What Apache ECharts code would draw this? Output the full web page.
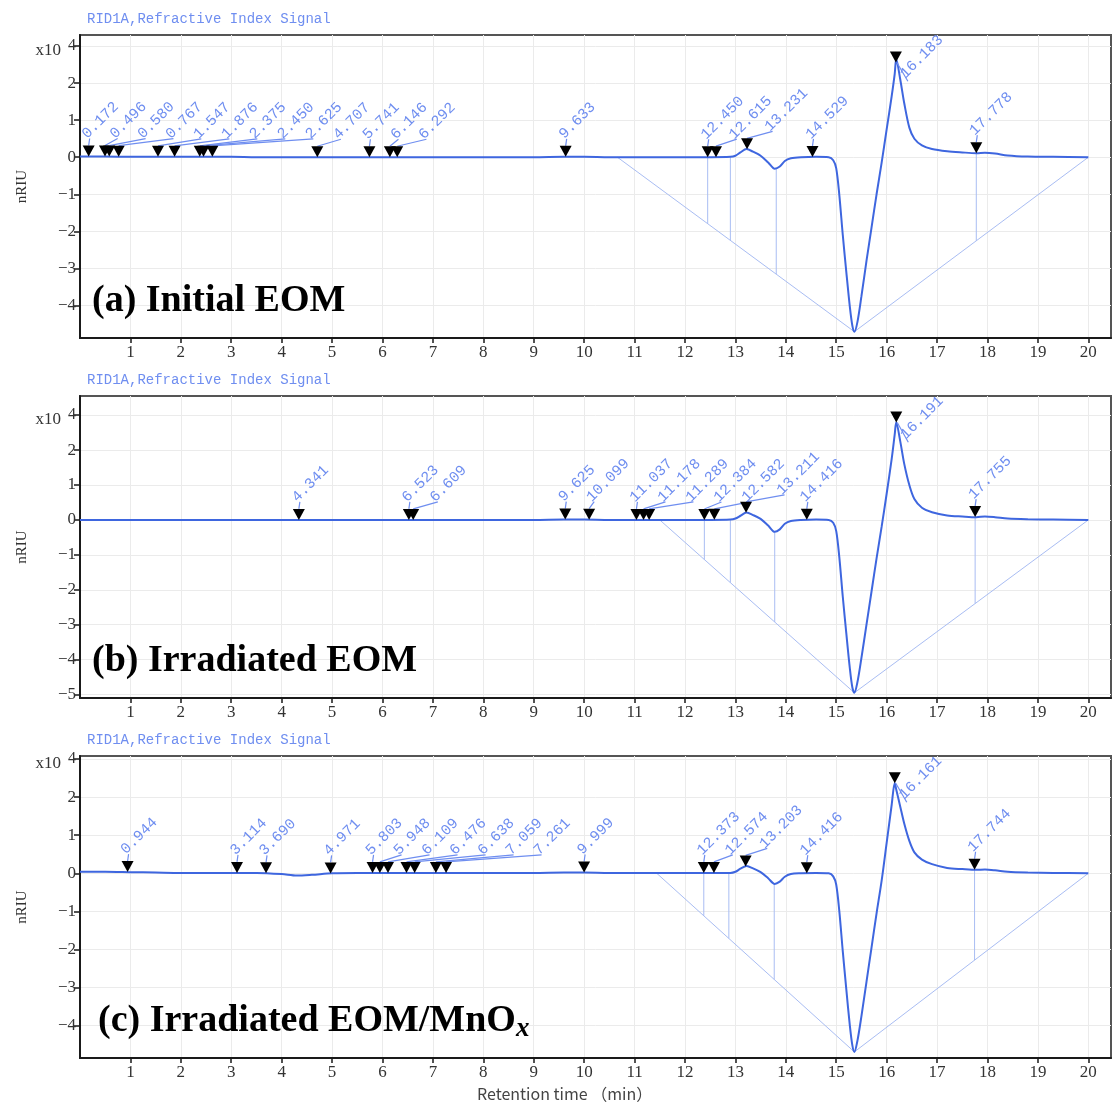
<!DOCTYPE html>
<html>
<head>
<meta charset="utf-8">
<script src="https://cdn.jsdelivr.net/npm/echarts@6/dist/echarts.min.js"></script>
<style>
  html, body { margin: 0; padding: 0; background: #ffffff; }
  #chart { width: 1113px; height: 1113px; }
</style>
</head>
<body>
<div id="chart"></div>
<script>
// Retention time grid (min) shared by the three refractive-index traces
const retentionTimes = [
  0, 0.5, 1, 1.5, 2, 2.5, 3, 3.5, 4,
  4.3, 4.6, 5, 5.5, 6, 6.5, 7, 8, 9,
  9.6, 10, 10.5, 11, 11.5, 12, 12.5, 12.9,
  13.0, 13.1, 13.22, 13.35, 13.5, 13.65, 13.78, 13.88, 13.98,
  14.1, 14.3, 14.6, 14.85, 14.94,
  15.0, 15.06, 15.13, 15.2, 15.27, 15.32, 15.36, 15.42, 15.5,
  15.6, 15.7, 15.8, 15.9, 16.0, 16.1, 16.16, 16.19,
  16.27, 16.35, 16.45, 16.55, 16.7, 16.9,
  17.2, 17.5, 17.78, 17.95, 18.15, 18.4, 18.8, 19.3, 20
];

// RID1A signal, nRIU x10^4
const signalA = [
  0.02, 0.02, 0.01, 0.01, 0.01, 0.01, 0.01, 0.00, 0.00,
  0.00, 0.00, 0.00, 0.00, 0.00, 0.00, 0.00, 0.00, 0.00,
  0.01, 0.01, 0.00, 0.00, 0.00, 0.00, 0.00, 0.01,
  0.04, 0.13, 0.22, 0.15, 0.04, -0.14, -0.31, -0.25, -0.10,
  -0.03, 0.00, 0.01, 0.00, -0.08,
  -0.30, -1.00, -2.10, -3.10, -4.04, -4.55, -4.71, -4.45, -3.75,
  -2.80, -1.90, -1.00, -0.15, 0.75, 1.65, 2.25, 2.65,
  2.10, 1.45, 0.80, 0.50, 0.32, 0.22,
  0.16, 0.13, 0.11, 0.12, 0.10, 0.05, 0.02, 0.01, 0.00
];
const signalB = [
  0.00, 0.00, 0.00, 0.00, 0.00, 0.00, 0.00, 0.00, 0.00,
  0.00, 0.00, 0.00, 0.00, 0.00, 0.00, 0.00, 0.00, 0.00,
  0.01, 0.01, 0.00, 0.00, 0.00, 0.00, 0.00, 0.01,
  0.04, 0.12, 0.21, 0.14, 0.03, -0.16, -0.34, -0.27, -0.11,
  -0.03, 0.00, 0.01, 0.00, -0.08,
  -0.32, -1.05, -2.20, -3.25, -4.25, -4.80, -4.95, -4.65, -3.95,
  -3.00, -2.05, -1.10, -0.20, 0.75, 1.75, 2.45, 2.80,
  2.25, 1.60, 1.00, 0.60, 0.35, 0.22,
  0.13, 0.10, 0.08, 0.10, 0.08, 0.04, 0.02, 0.01, 0.00
];
const signalC = [
  0.04, 0.04, 0.03, 0.02, 0.01, 0.01, 0.01, 0.01, -0.02,
  -0.06, -0.04, 0.00, 0.01, 0.01, 0.01, 0.01, 0.01, 0.01,
  0.02, 0.02, 0.01, 0.01, 0.01, 0.01, 0.01, 0.01,
  0.04, 0.12, 0.19, 0.13, 0.03, -0.13, -0.28, -0.22, -0.09,
  -0.02, 0.00, 0.01, 0.00, -0.08,
  -0.30, -0.98, -2.05, -3.05, -4.00, -4.52, -4.69, -4.40, -3.75,
  -2.85, -1.95, -1.05, -0.20, 0.80, 1.80, 2.37, 2.20,
  1.75, 1.30, 0.85, 0.55, 0.36, 0.24,
  0.14, 0.11, 0.09, 0.10, 0.08, 0.04, 0.02, 0.01, 0.00
];

// Integrated peak retention times (min)
const peaksA = [0.172, 0.496, 0.580, 0.767, 1.547, 1.876, 2.375, 2.450, 2.625, 4.707,
  5.741, 6.146, 6.292, 9.633, 12.450, 12.615, 13.231, 14.529, 16.183, 17.778];
const peaksB = [4.341, 6.523, 6.609, 9.625, 10.099, 11.037, 11.178, 11.289, 12.384,
  12.582, 13.211, 14.416, 16.191, 17.755];
const peaksC = [0.944, 3.114, 3.690, 4.971, 5.803, 5.948, 6.109, 6.476, 6.638, 7.059,
  7.261, 9.999, 12.373, 12.574, 13.203, 14.416, 16.161, 17.744];

// Peak-split drop lines (min) and where each skimmed baseline leaves zero
const dropTimesA = [12.450, 12.90, 13.81, 17.778];
const dropTimesB = [12.384, 12.90, 13.78, 17.755];
const dropTimesC = [12.373, 12.87, 13.77, 17.744];
const baselineStarts = [10.66, 11.5, 11.44];
const baselineEnd = 20;

const xTicks = [1, 2, 3, 4, 5, 6, 7, 8, 9, 10, 11, 12, 13, 14, 15, 16, 17, 18, 19, 20];
const yTicksA = [-4, -3, -2, -1, 0, 1, 2, 3];
const yTicksB = [-5, -4, -3, -2, -1, 0, 1, 2, 3];
const yTicksC = [-4, -3, -2, -1, 0, 1, 2, 3];

const signalTitle = 'RID1A,Refractive Index Signal';
const panelNames = ['(a) Initial EOM', '(b) Irradiated EOM', '(c) Irradiated EOM/MnO'];
const timeAxisName = 'Retention time （min）';

// ---------------------------------------------------------------------------
const TRACE_COLOR = '#3e66df';
const LABEL_COLOR = '#6f8ef0';
const BASE_COLOR = '#a9bdf3';
const AXIS_COLOR = '#1a1a1a';
const TEXT_COLOR = '#333333';
const GRID_COLOR = '#ebebeb';
const LABEL_FONT = 15;
const CHAR_W = LABEL_FONT * 0.6;
const LABEL_GAP = 28;

const panels = [
  { signal: signalA, peaks: peaksA, drops: dropTimesA, yTicks: yTicksA, min: -4.88, max: 3.3, top: 35, height: 303 },
  { signal: signalB, peaks: peaksB, drops: dropTimesB, yTicks: yTicksB, min: -5.1, max: 3.55, top: 396, height: 302 },
  { signal: signalC, peaks: peaksC, drops: dropTimesC, yTicks: yTicksC, min: -4.85, max: 3.08, top: 756, height: 302 }
];

function curveAt(signal, t) {
  for (let i = 1; i < retentionTimes.length; i++) {
    if (t <= retentionTimes[i]) {
      const t0 = retentionTimes[i - 1], t1 = retentionTimes[i];
      const f = (t - t0) / (t1 - t0);
      return signal[i - 1] + f * (signal[i] - signal[i - 1]);
    }
  }
  return signal[signal.length - 1];
}

// Skimmed baseline: zero -> deepest point of the trace -> zero
function baselineOf(k) {
  const sig = panels[k].signal;
  let iMin = 0;
  sig.forEach((v, i) => { if (v < sig[iMin]) iMin = i; });
  return [[baselineStarts[k], 0], [retentionTimes[iMin], sig[iMin]], [baselineEnd, 0]];
}
function baselineAt(k, t) {
  const b = baselineOf(k);
  const seg = t <= b[1][0] ? [b[0], b[1]] : [b[1], b[2]];
  const f = (t - seg[0][0]) / (seg[1][0] - seg[0][0]);
  return seg[0][1] + f * (seg[1][1] - seg[0][1]);
}

// Place the 45° peak labels left to right so they never run into each other
function layoutPeaks(api, k, plotTop) {
  const p = panels[k];
  const out = [];
  let prevX = -Infinity, prevY = 0;
  p.peaks.forEach(t => {
    const text = t.toFixed(3);
    const pt = api.coord([t, curveAt(p.signal, t)]);
    let ax = pt[0] + 1, ay = pt[1] - 15, lifted = false;
    const need = prevX + LABEL_GAP + (prevY - ay);
    if (ax < need) ax = need;
    const ext = text.length * CHAR_W * Math.SQRT1_2;
    if (ay - ext < plotTop + 8) {
      ay = plotTop + 8 + ext;
      ax = pt[0] + 12;
      lifted = true;
    }
    out.push({ pt, ax, ay, text, lifted });
    prevX = ax; prevY = ay;
  });
  return out;
}

const option = {
  animation: false,
  backgroundColor: '#ffffff',
  grid: panels.map(p => ({
    left: 80, top: p.top, width: 1031, height: p.height,
    show: true, borderColor: '#555555', borderWidth: 2, backgroundColor: 'transparent'
  })),
  xAxis: panels.map((p, k) => ({
    gridIndex: k, type: 'value', min: 0, max: 20.45,
    axisLine: { show: true, onZero: false, lineStyle: { color: AXIS_COLOR, width: 2 } },
    axisTick: { show: true, customValues: xTicks, length: 5, lineStyle: { color: AXIS_COLOR, width: 1.5 } },
    axisLabel: { customValues: xTicks, color: TEXT_COLOR, fontFamily: '"Liberation Serif"', fontSize: 17, margin: 6 },
    splitLine: { show: true, customValues: xTicks, lineStyle: { color: GRID_COLOR, width: 1 } }
  })),
  yAxis: panels.map((p, k) => ({
    gridIndex: k, type: 'value', min: p.min, max: p.max,
    name: 'nRIU', nameLocation: 'middle', nameGap: 50, nameMoveOverlap: false,
    nameTextStyle: { fontFamily: '"Liberation Serif"', fontSize: 15, color: TEXT_COLOR },
    axisLine: { show: true, onZero: false, lineStyle: { color: AXIS_COLOR, width: 2 } },
    axisTick: { show: true, customValues: p.yTicks, length: 6, lineStyle: { color: AXIS_COLOR, width: 1.5 } },
    axisLabel: {
      customValues: p.yTicks, color: TEXT_COLOR, fontFamily: '"Liberation Serif"', fontSize: 17, margin: 4,
      formatter: v => v === 3 ? '{m|x10}{e|4}' : (v < 0 ? '\u2212' + Math.abs(v) : String(v)),
      rich: {
        m: { fontFamily: '"Liberation Serif"', fontSize: 17, color: TEXT_COLOR, padding: [8, 0, 0, 0] },
        e: { fontFamily: '"Liberation Serif"', fontSize: 16, color: TEXT_COLOR, padding: [0, 0, 0, 7] }
      }
    },
    splitLine: { show: true, customValues: p.yTicks, lineStyle: { color: GRID_COLOR, width: 1 } }
  })),
  graphic: [].concat(
    panels.map(p => ({
      type: 'text', left: 87, top: p.top - 23, z: 20,
      style: { text: signalTitle, font: '14px "Liberation Mono"', fill: LABEL_COLOR }
    })),
    panelNames.map((name, k) => ({
      type: 'text', left: k === 2 ? 98 : 92, top: panels[k].top + panels[k].height - 56, z: 20,
      style: k === 2 ? {
        text: '{m|' + name + '}{x|x}',
        rich: {
          m: { font: 'bold 38px "Liberation Serif"', fill: '#000000', verticalAlign: 'bottom', padding: [0, 0, 3, 0] },
          x: { font: 'italic bold 27px "Liberation Serif"', fill: '#000000', verticalAlign: 'bottom' }
        }
      } : { text: name, font: 'bold 38px "Liberation Serif"', fill: '#000000' }
    })),
    [{
      type: 'text', left: 477, top: 1086, z: 20,
      style: { text: timeAxisName, font: '16px "Noto Sans CJK SC"', fill: '#444444' }
    }]
  ),
  series: []
};

panels.forEach((p, k) => {
  // skimmed baseline
  option.series.push({
    type: 'line', xAxisIndex: k, yAxisIndex: k, data: baselineOf(k),
    symbol: 'none', silent: true, z: 1,
    lineStyle: { color: BASE_COLOR, width: 1 }
  });
  // drop lines from the trace down to the baseline
  option.series.push({
    type: 'custom', xAxisIndex: k, yAxisIndex: k, silent: true, z: 1,
    data: p.drops.map(t => [t, curveAt(p.signal, t)]),
    renderItem: (params, api) => {
      const t = api.value(0);
      const a = api.coord([t, curveAt(p.signal, t)]);
      const b = api.coord([t, baselineAt(k, t)]);
      return { type: 'line', shape: { x1: a[0], y1: a[1], x2: b[0], y2: b[1] },
        style: { stroke: BASE_COLOR, lineWidth: 1 } };
    }
  });
  // detector trace
  option.series.push({
    type: 'line', xAxisIndex: k, yAxisIndex: k,
    data: retentionTimes.map((t, i) => [t, p.signal[i]]),
    symbol: 'none', smooth: 0.3, z: 3,
    lineStyle: { color: TRACE_COLOR, width: 2 }
  });
  // peak markers with rotated retention-time labels
  option.series.push({
    type: 'custom', xAxisIndex: k, yAxisIndex: k, silent: true, z: 5, clip: false,
    data: p.peaks.map(t => [t, curveAt(p.signal, t)]),
    renderItem: (params, api) => {
      const L = layoutPeaks(api, k, params.coordSys.y)[params.dataIndex];
      const x = L.pt[0], y = L.pt[1];
      const lead = L.lifted
        ? { x1: x + 1, y1: y, x2: L.ax, y2: L.ay }
        : { x1: x, y1: y - 11, x2: L.ax, y2: L.ay - 3 };
      return {
        type: 'group',
        children: [
          { type: 'line', shape: lead, style: { stroke: LABEL_COLOR, lineWidth: 1.2 } },
          { type: 'polygon', shape: { points: [[x - 6, y - 11], [x + 6, y - 11], [x, y]] }, style: { fill: '#000000' } },
          { type: 'text', x: L.ax, y: L.ay, rotation: Math.PI / 4,
            style: { text: L.text, fill: LABEL_COLOR, font: LABEL_FONT + 'px "Liberation Mono"',
              align: 'left', verticalAlign: 'bottom' } }
        ]
      };
    }
  });
});

const chart = echarts.init(document.getElementById('chart'), null, { renderer: 'canvas' });
chart.setOption(option);
</script>
</body>
</html>
